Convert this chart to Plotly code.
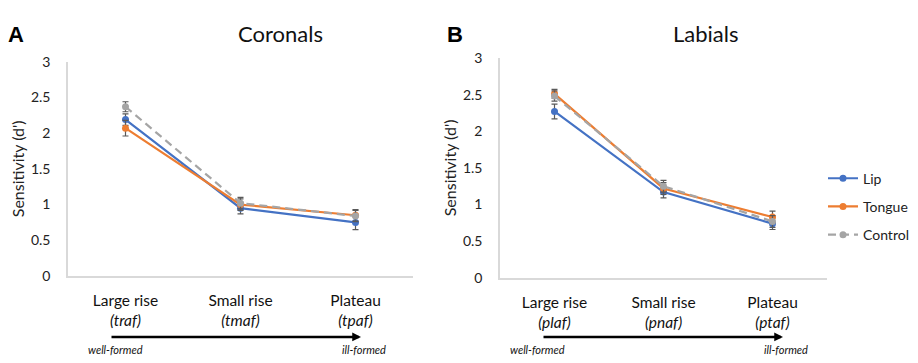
import plotly.graph_objects as go

categories_cor = ["Large rise<br><i>(traf)</i>", "Small rise<br><i>(tmaf)</i>", "Plateau<br><i>(tpaf)</i>"]
categories_lab = ["Large rise<br><i>(plaf)</i>", "Small rise<br><i>(pnaf)</i>", "Plateau<br><i>(ptaf)</i>"]
series_names = ["Lip", "Tongue", "Control"]

cor_lip = [2.19, 0.95, 0.75]
cor_tongue = [2.07, 1.00, 0.85]
cor_control = [2.37, 1.02, 0.84]
cor_lip_err = [0.08, 0.08, 0.10]
cor_tongue_err = [0.11, 0.08, 0.08]
cor_control_err = [0.07, 0.08, 0.08]

lab_lip = [2.27, 1.17, 0.74]
lab_tongue = [2.51, 1.22, 0.83]
lab_control = [2.48, 1.25, 0.77]
lab_lip_err = [0.10, 0.08, 0.08]
lab_tongue_err = [0.06, 0.08, 0.08]
lab_control_err = [0.07, 0.08, 0.08]

yticks = [0, 0.5, 1, 1.5, 2, 2.5, 3]
ytick_text = ["0", "0.5", "1", "1.5", "2", "2.5", "3"]

colors = {"Lip": "#4472C4", "Tongue": "#ED7D31", "Control": "#A5A5A5"}
dashes = {"Lip": "solid", "Tongue": "solid", "Control": "8px,5px"}
FONT = "Lato, 'Open Sans', sans-serif"

fig = go.Figure()

panels = [
    ("x", "y", [cor_lip, cor_tongue, cor_control], [cor_lip_err, cor_tongue_err, cor_control_err]),
    ("x2", "y2", [lab_lip, lab_tongue, lab_control], [lab_lip_err, lab_tongue_err, lab_control_err]),
]
for pi, (xa, ya, vals, errs) in enumerate(panels):
    for name, v, e in zip(series_names, vals, errs):
        fig.add_trace(go.Scatter(
            x=[0, 1, 2], y=v, xaxis=xa, yaxis=ya, name=name,
            mode="lines+markers",
            line=dict(color=colors[name], width=2.2, dash=dashes[name]),
            marker=dict(color=colors[name], size=7),
            error_y=dict(type="data", array=e, visible=True, color="#595959", thickness=1.2, width=3),
            showlegend=(pi == 1), legendgroup=name,
        ))

# the page places the figure with an 8px body margin; work in page pixels
OFF = 8
W, H = 910, 355
def px_x(p): return (p - OFF) / W
def px_y(p): return 1 - (p - OFF) / H

common_y = dict(range=[0, 3], tickvals=yticks, ticktext=ytick_text, showgrid=False, zeroline=False,
                showline=True, linecolor="#D9D9D9", linewidth=1.5, ticks="outside", ticklen=13,
                tickcolor="rgba(0,0,0,0)", tickfont=dict(family=FONT, size=14, color="#222"),
                title=dict(text="Sensitivity (d')", font=dict(family=FONT, size=16, color="#222"), standoff=2),
                fixedrange=True)
common_x = dict(range=[-0.5, 2.5], tickvals=[0, 1, 2], showgrid=False, zeroline=False,
                showline=True, linecolor="#D9D9D9", linewidth=1.5, ticks="outside", ticklen=10,
                tickcolor="rgba(0,0,0,0)", tickfont=dict(family=FONT, size=15.5, color="#111"),
                fixedrange=True)

fig.update_layout(
    width=W, height=H, margin=dict(l=0, r=0, t=0, b=0),
    paper_bgcolor="white", plot_bgcolor="white",
    font=dict(family=FONT),
    xaxis=dict(**common_x, domain=[px_x(68), px_x(413)], ticktext=categories_cor, anchor="y"),
    yaxis=dict(**common_y, domain=[px_y(280), px_y(55)], anchor="x"),
    xaxis2=dict(**common_x, domain=[px_x(500), px_x(827)], ticktext=categories_lab, anchor="y2"),
    yaxis2=dict(**common_y, domain=[px_y(282), px_y(51)], anchor="x2"),
    legend=dict(x=px_x(823), y=px_y(161), xanchor="left", yanchor="top",
                font=dict(family=FONT, size=14, color="#222"), tracegroupgap=7,
                bgcolor="rgba(0,0,0,0)"),
    showlegend=True,
)

ann = []
ann.append(dict(text="Coronals", x=px_x(280), y=px_y(25), xref="paper", yref="paper", showarrow=False,
                font=dict(family=FONT, size=22, color="#111"), xanchor="center", yanchor="middle"))
ann.append(dict(text="Labials", x=px_x(705), y=px_y(25), xref="paper", yref="paper", showarrow=False,
                font=dict(family=FONT, size=22, color="#111"), xanchor="center", yanchor="middle"))
ann.append(dict(text="<b>A</b>", x=px_x(16), y=px_y(26), xref="paper", yref="paper", showarrow=False,
                font=dict(family="Liberation Sans, Arial", size=22, color="#000"), xanchor="center", yanchor="middle"))
ann.append(dict(text="<b>B</b>", x=px_x(455), y=px_y(26), xref="paper", yref="paper", showarrow=False,
                font=dict(family="Liberation Sans, Arial", size=22, color="#000"), xanchor="center", yanchor="middle"))
for (x0, x1, wl, il) in [(110, 361, 115, 364), (542, 783, 537, 786)]:
    ann.append(dict(x=px_x(x1), y=px_y(344), ax=-(x1 - x0), ay=0, xref="paper", yref="paper",
                    axref="pixel", ayref="pixel", showarrow=True, arrowhead=2, arrowsize=0.7,
                    arrowwidth=2.5, arrowcolor="#000", text=""))
    ann.append(dict(text="<i>well-formed</i>", x=px_x(wl), y=px_y(357), xref="paper", yref="paper",
                    showarrow=False, font=dict(family=FONT, size=11, color="#111"), xanchor="center", yanchor="middle"))
    ann.append(dict(text="<i>ill-formed</i>", x=px_x(il), y=px_y(357), xref="paper", yref="paper",
                    showarrow=False, font=dict(family=FONT, size=11, color="#111"), xanchor="center", yanchor="middle"))
fig.update_layout(annotations=ann)

fig.write_html("out.html")
